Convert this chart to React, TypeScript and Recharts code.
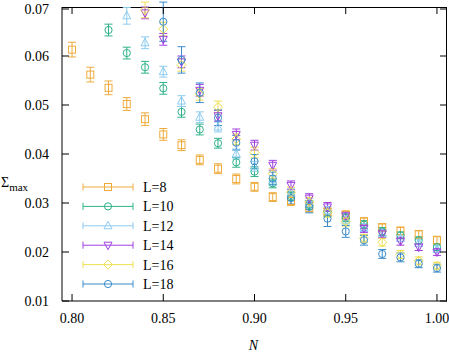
import { ScatterChart, Scatter, XAxis, YAxis, ErrorBar } from 'recharts';

// N values on the grid (0.80 .. 1.00)
const nGrid = [0.80, 0.81, 0.82, 0.83, 0.84, 0.85, 0.86, 0.87, 0.88, 0.89, 0.90,
  0.91, 0.92, 0.93, 0.94, 0.95, 0.96, 0.97, 0.98, 0.99, 1.00];

const xTicks = [0.80, 0.85, 0.90, 0.95, 1.00];
const yTicks = [0.01, 0.02, 0.03, 0.04, 0.05, 0.06, 0.07];

// L=8 : 0.80 .. 1.00
const sigmaL8 = [0.0613, 0.0562, 0.0535, 0.0502, 0.0471, 0.0440, 0.0418, 0.0388, 0.0370, 0.0349, 0.0333,
  0.0312, 0.0304, 0.0290, 0.0282, 0.0276, 0.0262, 0.0250, 0.0243, 0.0236, 0.0224];
const errL8 = [0.0015, 0.0015, 0.0014, 0.0013, 0.0013, 0.0012, 0.0011, 0.0010, 0.0010, 0.0010, 0.0009,
  0.0009, 0.0009, 0.0008, 0.0008, 0.0008, 0.0008, 0.0008, 0.0008, 0.0008, 0.0008];

// L=10 : 0.82 .. 1.00
const sigmaL10 = [0.0653, 0.0606, 0.0577, 0.0534, 0.0486, 0.0450, 0.0422, 0.0383, 0.0364,
  0.0340, 0.0314, 0.0296, 0.0281, 0.0270, 0.0256, 0.0242, 0.0234, 0.0224, 0.0210];
const errL10 = [0.0012, 0.0012, 0.0012, 0.0012, 0.0011, 0.0011, 0.0010, 0.0010, 0.0010,
  0.0009, 0.0009, 0.0009, 0.0008, 0.0008, 0.0008, 0.0008, 0.0007, 0.0007, 0.0007];

// L=12 : 0.83 .. 1.00
const sigmaL12 = [0.0682, 0.0627, 0.0568, 0.0508, 0.0475, 0.0455, 0.0400, 0.0375,
  0.0347, 0.0320, 0.0300, 0.0285, 0.0265, 0.0250, 0.0238, 0.0228, 0.0218, 0.0206];
const errL12 = [0.0017, 0.0012, 0.0011, 0.0011, 0.0011, 0.0010, 0.0010, 0.0010,
  0.0009, 0.0009, 0.0009, 0.0008, 0.0008, 0.0008, 0.0008, 0.0007, 0.0007, 0.0007];

// L=14 : 0.84 .. 1.00
const sigmaL14 = [0.0688, 0.0634, 0.0588, 0.0530, 0.0478, 0.0440, 0.0418,
  0.0377, 0.0336, 0.0310, 0.0292, 0.0274, 0.0248, 0.0237, 0.0222, 0.0210, 0.0200];
const errL14 = [0.0012, 0.0012, 0.0012, 0.0012, 0.0011, 0.0011, 0.0010,
  0.0010, 0.0009, 0.0009, 0.0009, 0.0008, 0.0008, 0.0008, 0.0008, 0.0007, 0.0007];

// L=16 : 0.84 .. 1.00
const sigmaL16 = [0.0694, 0.0655, 0.0582, 0.0522, 0.0496, 0.0430, 0.0403,
  0.0360, 0.0322, 0.0302, 0.0280, 0.0262, 0.0228, 0.0220, 0.0195, 0.0182, 0.0172];
const errL16 = [0.0016, 0.0014, 0.0013, 0.0012, 0.0012, 0.0011, 0.0011,
  0.0010, 0.0010, 0.0009, 0.0009, 0.0009, 0.0008, 0.0008, 0.0008, 0.0008, 0.0007];

// L=18 : 0.85 .. 1.00
const sigmaL18 = [0.0670, 0.0592, 0.0525, 0.0474, 0.0423, 0.0385,
  0.0350, 0.0310, 0.0292, 0.0268, 0.0242, 0.0224, 0.0196, 0.0189, 0.0176, 0.0167];
const errL18 = [0.0040, 0.0027, 0.0020, 0.0016, 0.0015, 0.0014,
  0.0013, 0.0012, 0.0012, 0.0016, 0.0012, 0.0010, 0.0009, 0.0009, 0.0008, 0.0008];

const toPoints = (ns: number[], vs: number[], es: number[]) =>
  vs.map((s, i) => ({ n: ns[i], s, e: es[i] }));

type Kind = 'square' | 'circle' | 'up' | 'down' | 'diamond';

const series: { name: string; color: string; kind: Kind; data: { n: number; s: number; e: number }[] }[] = [
  { name: 'L=8', color: '#eeab3c', kind: 'square', data: toPoints(nGrid, sigmaL8, errL8) },
  { name: 'L=10', color: '#2fb28a', kind: 'circle', data: toPoints(nGrid.slice(2), sigmaL10, errL10) },
  { name: 'L=12', color: '#8ccbf0', kind: 'up', data: toPoints(nGrid.slice(3), sigmaL12, errL12) },
  { name: 'L=14', color: '#a040e0', kind: 'down', data: toPoints(nGrid.slice(4), sigmaL14, errL14) },
  { name: 'L=16', color: '#f0e050', kind: 'diamond', data: toPoints(nGrid.slice(4), sigmaL16, errL16) },
  { name: 'L=18', color: '#3b8ccb', kind: 'circle', data: toPoints(nGrid.slice(5), sigmaL18, errL18) },
];

const W = 449;
const H = 353;
const PLOT_LEFT = 62;
const PLOT_TOP = 7;
const PLOT_RIGHT = 447;
const PLOT_BOTTOM = 301;
const TICK = 7;
const FONT = '"Liberation Serif", "Times New Roman", Times, Tinos, "Nimbus Roman", "Noto Serif", "DejaVu Serif", serif';

function Marker({ cx, cy, color, kind }: { cx: number; cy: number; color: string; kind: Kind }) {
  const p = { fill: 'none', stroke: color, strokeWidth: 1 };
  if (kind === 'square') return <rect x={cx - 3.5} y={cy - 3.5} width={7} height={7} {...p} />;
  if (kind === 'circle') return <circle cx={cx} cy={cy} r={3.6} {...p} />;
  if (kind === 'up') return <polygon points={`${cx},${cy - 4.5} ${cx - 4},${cy + 3} ${cx + 4},${cy + 3}`} {...p} />;
  if (kind === 'down') return <polygon points={`${cx},${cy + 4.5} ${cx - 4},${cy - 3} ${cx + 4},${cy - 3}`} {...p} />;
  return <polygon points={`${cx},${cy - 4.5} ${cx + 4.5},${cy} ${cx},${cy + 4.5} ${cx - 4.5},${cy}`} {...p} />;
}

function XTick({ x, y, payload }: any) {
  return (
    <g>
      <line x1={x} y1={PLOT_BOTTOM} x2={x} y2={PLOT_BOTTOM - TICK} stroke="#000" />
      <line x1={x} y1={PLOT_TOP} x2={x} y2={PLOT_TOP + TICK} stroke="#000" />
      <text x={x} y={y + 22} textAnchor="middle" fontSize={14} fill="#000">
        {Number(payload.value).toFixed(2)}
      </text>
    </g>
  );
}

function YTick({ y, payload }: any) {
  return (
    <g>
      <line x1={PLOT_LEFT} y1={y} x2={PLOT_LEFT + TICK} y2={y} stroke="#000" />
      <line x1={PLOT_RIGHT} y1={y} x2={PLOT_RIGHT - TICK} y2={y} stroke="#000" />
      <text x={49} y={y + 5} textAnchor="end" fontSize={14} fill="#000">
        {Number(payload.value).toFixed(2)}
      </text>
    </g>
  );
}

// legend drawn inside the plot, lower left
function LegendBox() {
  return (
    <g transform="translate(80, 177)">
      {series.map((s, i) => {
        const cy = 10 + i * 19.4;
        return (
          <g key={s.name}>
            <line x1={3} y1={cy} x2={53} y2={cy} stroke={s.color} />
            <line x1={3} y1={cy - 3.5} x2={3} y2={cy + 3.5} stroke={s.color} />
            <line x1={53} y1={cy - 3.5} x2={53} y2={cy + 3.5} stroke={s.color} />
            <Marker cx={28} cy={cy} color={s.color} kind={s.kind} />
            <text x={63} y={cy + 5} fontSize={14} fill="#000">{s.name}</text>
          </g>
        );
      })}
    </g>
  );
}

export default function App() {
  return (
    <div style={{ position: 'absolute', left: 0, top: 0, width: W, height: H, background: '#fff', fontFamily: FONT }}>
      <ScatterChart width={W} height={H} margin={{ top: PLOT_TOP, right: W - PLOT_RIGHT, bottom: 0, left: 0 }} style={{ fontFamily: FONT }}>
        <XAxis
          dataKey="n"
          type="number"
          domain={[0.7945, 1.0055]}
          ticks={xTicks}
          allowDataOverflow
          height={H - PLOT_BOTTOM}
          tickSize={0}
          tickMargin={0}
          tickLine={false}
          axisLine={{ stroke: '#000' }}
          tick={<XTick />}
          label={() => (
            <text x={(PLOT_LEFT + PLOT_RIGHT) / 2 - 1} y={350} textAnchor="middle" fontSize={14} fontStyle="italic" fill="#000">
              N
            </text>
          )}
        />
        <YAxis
          dataKey="s"
          type="number"
          domain={[0.01, 0.07]}
          ticks={yTicks}
          allowDataOverflow
          width={PLOT_LEFT}
          tickSize={0}
          tickMargin={0}
          tickLine={false}
          axisLine={{ stroke: '#000' }}
          tick={<YTick />}
          label={() => (
            <text x={1} y={187} fontSize={14} fill="#000">
              Σ<tspan fontSize={11} dy={4}>max</tspan>
            </text>
          )}
        />
        <line x1={PLOT_LEFT} y1={PLOT_TOP + 0.5} x2={PLOT_RIGHT} y2={PLOT_TOP + 0.5} stroke="#000" />
        <line x1={PLOT_RIGHT - 0.5} y1={PLOT_TOP} x2={PLOT_RIGHT - 0.5} y2={PLOT_BOTTOM} stroke="#000" />
        <LegendBox />
        {series.map((s) => (
          <Scatter
            key={s.name}
            name={s.name}
            data={s.data}
            isAnimationActive={false}
            shape={(p: any) => <Marker cx={p.cx} cy={p.cy} color={s.color} kind={s.kind} />}
          >
            <ErrorBar dataKey="e" direction="y" width={4} stroke={s.color} strokeWidth={1} isAnimationActive={false} />
          </Scatter>
        ))}
      </ScatterChart>
    </div>
  );
}
